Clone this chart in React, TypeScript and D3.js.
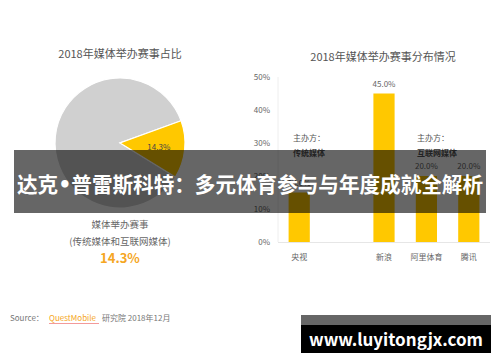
import React from "react";
import * as d3 from "d3";

const pieLabels = ["其他", "媒体举办赛事"];
const pieValues = [85.7, 14.3];
const barCategories = ["央视", "", "新浪", "阿里体育", "腾讯"];
const barValues = [15.0, null, 45.0, 20.0, 20.0];
const yTicks = [0, 10, 20, 30, 40, 50];

const FONT = "'Noto Sans CJK SC', 'Noto Sans', sans-serif";

export default function App() {
  const W = 500, H = 362;
  const cx = 120, cy = 143, r = 65;
  const startRot = (70 * Math.PI) / 180;
  const pieGen = d3
    .pie<number>()
    .sort(null)
    .value((d) => d)
    .startAngle(startRot + (14.3 / 100) * 2 * Math.PI)
    .endAngle(startRot + (14.3 / 100) * 2 * Math.PI + 2 * Math.PI);
  const arcs = pieGen(pieValues);
  const arcGen = d3.arc<d3.PieArcDatum<number>>().innerRadius(0).outerRadius(r);
  const pieColors = ["#d0d0d0", "#ffc800"];

  const x = d3.scaleBand<string>().domain(barCategories.map((c, i) => c + "#" + i)).range([278, 490]).paddingInner(0.5).paddingOuter(0.25);
  const y = d3.scaleLinear().domain([0, 50]).range([242, 77]);

  const yellowArc = arcs[1];
  const labelPos = d3.arc<d3.PieArcDatum<number>>().innerRadius(r * 0.6).outerRadius(r * 0.6).centroid(yellowArc);

  return (
    <svg width={W} height={H} style={{ position: "absolute", left: 0, top: 0, background: "#fff", fontFamily: FONT }}>
      <rect x={0} y={0} width={W} height={H} fill="#fff" />
      <text x={120} y={58} textAnchor="middle" fontSize={11} fill="#555">2018年媒体举办赛事占比</text>
      <g transform={`translate(${cx},${cy})`}>
        {arcs.map((a, i) => (
          <path key={i} d={arcGen(a) || ""} fill={pieColors[i]} stroke="#fff" strokeWidth={1.2} />
        ))}
        <text x={labelPos[0]} y={labelPos[1] + 3} textAnchor="middle" fontSize={8} fill="#444">{pieValues[1].toFixed(1)}%</text>
      </g>
      <text x={120} y={228} textAnchor="middle" fontSize={9.5} fill="#666">媒体举办赛事</text>
      <text x={120} y={245} textAnchor="middle" fontSize={9.5} fill="#666">(传统媒体和互联网媒体)</text>
      <text x={120} y={263} textAnchor="middle" fontSize={13} fontWeight="bold" fill="#f5a623">{pieValues[1].toFixed(1)}%</text>

      <text x={383} y={61} textAnchor="middle" fontSize={11} fill="#555">2018年媒体举办赛事分布情况</text>
      <line x1={278} x2={278} y1={77} y2={242} stroke="#eee" strokeWidth={1} />
      <line x1={278} x2={490} y1={242.5} y2={242.5} stroke="#e6e6e6" strokeWidth={1} />
      {yTicks.map((t) => (
        <text key={t} x={270} y={y(t) + 3} textAnchor="end" fontSize={8} fill="#666">{t}%</text>
      ))}
      {barCategories.map((c, i) => {
        const v = barValues[i];
        const key = c + "#" + i;
        const bx = x(key)!;
        const bw = x.bandwidth();
        return (
          <g key={key}>
            {v != null && (
              <>
                <rect x={bx} y={y(v)} width={bw} height={y(0) - y(v)} fill="#ffc800" />
                <text x={bx + bw / 2} y={y(v) - 7} textAnchor="middle" fontSize={8} fill="#666">{v.toFixed(1)}%</text>
              </>
            )}
            <text x={bx + bw / 2} y={260} textAnchor="middle" fontSize={8} fill="#666">{c}</text>
          </g>
        );
      })}
      <text x={293} y={141} fontSize={8} fill="#555">主办方：</text>
      <text x={293} y={156} fontSize={8} fontWeight="bold" fill="#555">传统媒体</text>
      <text x={417} y={141} fontSize={8} fill="#555">主办方：</text>
      <text x={417} y={156} fontSize={8} fontWeight="bold" fill="#555">互联网媒体</text>

      <rect x={14} y={150} width={472} height={63} fill="#000" fillOpacity={0.6} />
      <text x={250} y={192} textAnchor="middle" fontSize={21} fontWeight="bold" fill="#fff" textLength={466} lengthAdjust="spacingAndGlyphs">
        达克<tspan fontFamily="'DejaVu Sans', sans-serif">•</tspan>普雷斯科特：多元体育参与与年度成就全解析
      </text>

      <text x={10} y={321} fontSize={8} fill="#777">Source：</text>
      <text x={49} y={321} fontSize={8} fill="#f5a623">QuestMobile</text>
      <line x1={49} x2={99} y1={323.5} y2={323.5} stroke="#f08080" strokeWidth={0.8} />
      <text x={102} y={321} fontSize={8} fill="#777">研究院 2018年12月</text>

      <rect x={301} y={315} width={190} height={10} fill="#666" />
      <rect x={301} y={325} width={190} height={28} fill="#000" />
      <text x={396} y={346} textAnchor="middle" fontSize={17} fontWeight="bold" fill="#fff">www.luyitongjx.com</text>
    </svg>
  );
}
